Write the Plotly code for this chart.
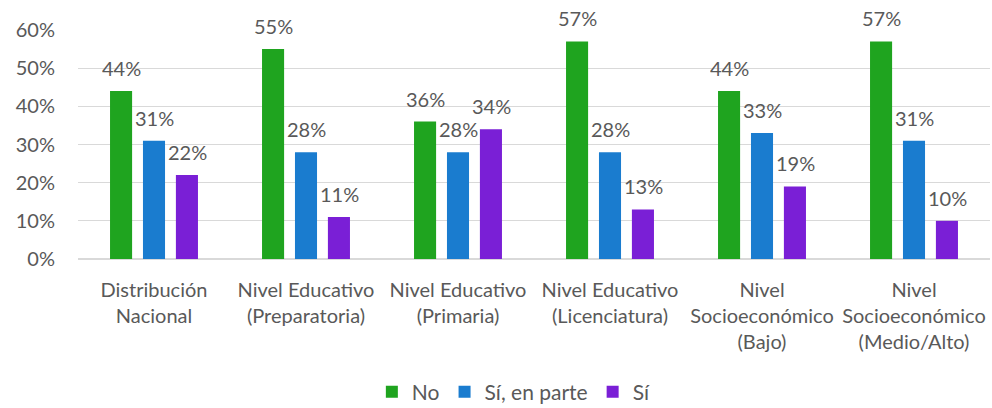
import plotly.graph_objects as go

categories = [
    "Distribución<br>Nacional",
    "Nivel Educativo<br>(Preparatoria)",
    "Nivel Educativo<br>(Primaria)",
    "Nivel Educativo<br>(Licenciatura)",
    "Nivel<br>Socioeconómico<br>(Bajo)",
    "Nivel<br>Socioeconómico<br>(Medio/Alto)",
]
no_vals = [0.44, 0.55, 0.36, 0.57, 0.44, 0.57]
parte_vals = [0.31, 0.28, 0.28, 0.28, 0.33, 0.31]
si_vals = [0.22, 0.11, 0.34, 0.13, 0.19, 0.10]

series = [
    ("No", no_vals, "#1fa41f"),
    ("Sí, en parte", parte_vals, "#1a7ccf"),
    ("Sí", si_vals, "#7a1fd6"),
]
label_shift = [-33, 0, 33]  # pixel offset of each bar within its group

fig = go.Figure()
for (name, vals, color), dx in zip(series, label_shift):
    fig.add_trace(go.Bar(
        x=categories, y=vals, name=name,
        marker=dict(color=color, line=dict(width=0)),
    ))
    # value labels sit well above the bars, as in the original
    for cat, v in zip(categories, vals):
        fig.add_annotation(x=cat, y=v, xshift=dx, yshift=13, yanchor="bottom",
                           height=18, valign="middle", borderpad=0,
                           text=f"{round(v * 100)}%", showarrow=False,
                           font=dict(size=20, color="#595959"))

fig.update_layout(
    width=992, height=408,
    margin=dict(l=78, r=2, t=30, b=149),
    paper_bgcolor="white", plot_bgcolor="white",
    font=dict(family="Lato, Open Sans, sans-serif", size=20, color="#595959"),
    barmode="group", bargap=0.35, bargroupgap=0.33,
    showlegend=True,
    legend=dict(orientation="h", xref="container", yref="container",
                x=0.518, xanchor="center", y=0.039, yanchor="middle",
                font=dict(size=21, color="#595959")),
)
fig.update_yaxes(range=[0, 0.6], dtick=0.1, tickformat=".0%", showgrid=True,
                 gridcolor="#d9d9d9", gridwidth=1, zeroline=True, zerolinecolor="#d9d9d9",
                 tickfont=dict(size=20), ticklabelstandoff=22, automargin=False)
fig.update_xaxes(tickfont=dict(size=20), showline=False, ticks="",
                 ticklabelstandoff=17, automargin=False)

# drop the default 8px body margin so the figure sits at the page corner
fig.write_html("out.html", config={"displayModeBar": False},
               post_script="document.body.style.margin='0';")
